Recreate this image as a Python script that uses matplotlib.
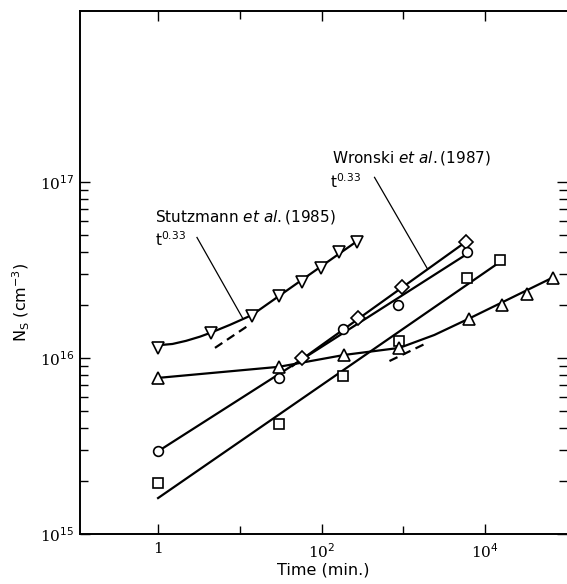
import numpy as np
import matplotlib
matplotlib.use("Agg")
import matplotlib.pyplot as plt
from matplotlib.ticker import FixedLocator, FixedFormatter, NullFormatter

plt.rcParams['mathtext.fontset'] = 'dejavusans'

# ---------------- data ----------------
# Stutzmann et al. (inverted triangles)
stutz_t = [1, 4.4, 14, 30, 57, 97, 161, 267]
stutz_n = [1.14e16, 1.39e16, 1.73e16, 2.25e16, 2.71e16, 3.26e16, 3.97e16, 4.58e16]
stutz_curve_t = [1, 1.5, 2.2, 3.25, 4.4, 7.55, 14, 267]
stutz_curve_n = [1.18e16, 1.2e16, 1.25e16, 1.32e16, 1.39e16, 1.54e16, 1.75e16, 4.58e16]
stutz_dash_t = [4.96, 13.3]
stutz_dash_n = [1.14e16, 1.55e16]

# Wronski et al. (diamonds)
wron_t = [57, 275, 972, 5870]
wron_n = [1.0e16, 1.69e16, 2.54e16, 4.58e16]
wron_fit_t = [44, 5870]
wron_fit_n = [9.0e15, 4.58e16]

# circles
circ_t = [1, 30, 180, 869, 6030]
circ_n = [2.95e15, 7.7e15, 1.46e16, 2.0e16, 3.97e16]
circ_fit_t = [1, 6030]
circ_fit_n = [2.95e15, 3.9e16]

# squares
sq_t = [1, 30, 180, 893, 6030, 15200]
sq_n = [1.94e15, 4.2e15, 7.9e15, 1.25e16, 2.86e16, 3.61e16]
sq_fit_t = [1, 14800]
sq_fit_n = [1.6e15, 3.48e16]

# triangles
tri_t = [1, 30, 190, 893, 6300, 16100, 32500, 67000]
tri_n = [7.7e15, 8.9e15, 1.04e16, 1.14e16, 1.67e16, 2.0e16, 2.32e16, 2.86e16]
tri_curve_t = [1, 30, 190, 893, 2390, 6300, 67000]
tri_curve_n = [7.7e15, 8.9e15, 1.04e16, 1.14e16, 1.35e16, 1.67e16, 2.86e16]
tri_dash_t = [675, 1963]
tri_dash_n = [9.6e15, 1.22e16]

x_major = [1, 1e2, 1e4]
x_major_labels = ['1', '10$^2$', '10$^4$']
x_minor = [10, 1e3]
y_major = [1e15, 1e16, 1e17]
y_major_labels = ['10$^{15}$', '10$^{16}$', '10$^{17}$']

# ---------------- figure ----------------
W, H = 567, 584
fig = plt.figure(figsize=(W / 100, H / 100), dpi=100)
ax = fig.add_axes([80 / W, (H - 534) / H, (567 - 80) / W, (534 - 11) / H])
ax.set_xscale('log')
ax.set_yscale('log')
ax.set_xlim(0.111, 1e5)
ax.set_ylim(1e15, 10 ** 17.97)

lw = 1.6
mk = dict(mfc='white', mec='black', mew=1.2, ls='none', zorder=5)

# curves / fits
ax.plot(stutz_curve_t, stutz_curve_n, color='black', lw=lw)
ax.plot(stutz_dash_t, stutz_dash_n, color='black', lw=lw, ls=(0, (4, 2.5)))
ax.plot(wron_fit_t, wron_fit_n, color='black', lw=lw)
ax.plot(circ_fit_t, circ_fit_n, color='black', lw=lw)
ax.plot(sq_fit_t, sq_fit_n, color='black', lw=lw)
ax.plot(tri_curve_t, tri_curve_n, color='black', lw=lw)
ax.plot(tri_dash_t, tri_dash_n, color='black', lw=lw, ls=(0, (4, 2.5)))

# markers
ax.plot(stutz_t, stutz_n, marker='v', ms=8.5, **mk)
ax.plot(wron_t, wron_n, marker='D', ms=7, **mk)
ax.plot(circ_t, circ_n, marker='o', ms=7, **mk)
ax.plot(sq_t, sq_n, marker='s', ms=7, **mk)
ax.plot(tri_t, tri_n, marker='^', ms=8.5, **mk)

# annotations
sans = 'DejaVu Sans'
ax.text(0.92, 6.28e16, 'Stutzmann $\\it{et\\ al.}$(1985)', fontsize=11,
        family=sans, ha='left', va='center')
ax.text(0.92, 4.7e16, 't$^{0.33}$', fontsize=11, family=sans, ha='left', va='center')
ax.plot([2.99, 10.9], [4.83e16, 1.67e16], color='black', lw=0.9)

ax.text(132, 1.36e17, 'Wronski $\\it{et\\ al.}$(1987)', fontsize=11,
        family=sans, ha='left', va='center')
ax.text(128, 1.0e17, 't$^{0.33}$', fontsize=11, family=sans, ha='left', va='center')
ax.plot([443, 1963], [1.06e17, 3.21e16], color='black', lw=0.9)

# axes styling
for s in ['left', 'bottom', 'top']:
    ax.spines[s].set_linewidth(1.4)
ax.spines['right'].set_visible(False)

ax.xaxis.set_major_locator(FixedLocator(x_major))
ax.xaxis.set_major_formatter(FixedFormatter(x_major_labels))
ax.xaxis.set_minor_locator(FixedLocator(x_minor))
ax.xaxis.set_minor_formatter(NullFormatter())

y_minor = [m * d for d in (1e15, 1e16) for m in range(2, 10)]
ax.yaxis.set_major_locator(FixedLocator(y_major))
ax.yaxis.set_major_formatter(FixedFormatter(y_major_labels))
ax.yaxis.set_minor_locator(FixedLocator(y_minor))
ax.yaxis.set_minor_formatter(NullFormatter())

ax.tick_params(which='both', direction='in', top=True, right=True,
               labeltop=False, labelright=False, width=1.0)
ax.tick_params(which='major', length=7)
ax.tick_params(which='minor', length=6)
ax.tick_params(axis='both', labelsize=11)
for lab in ax.get_xticklabels() + ax.get_yticklabels():
    lab.set_family('DejaVu Serif')
ax.tick_params(axis='x', pad=6)
ax.tick_params(axis='y', pad=4)

ax.set_xlabel('Time (min.)', fontsize=11.5, family=sans)
ax.xaxis.set_label_coords(0.499, -0.055)
ax.set_ylabel('N$_\\mathrm{S}$ (cm$^{-3}$)', fontsize=11.5, family=sans)
ax.yaxis.set_label_coords(-0.0985, 0.4425)

fig.savefig('out.png', dpi=100)
